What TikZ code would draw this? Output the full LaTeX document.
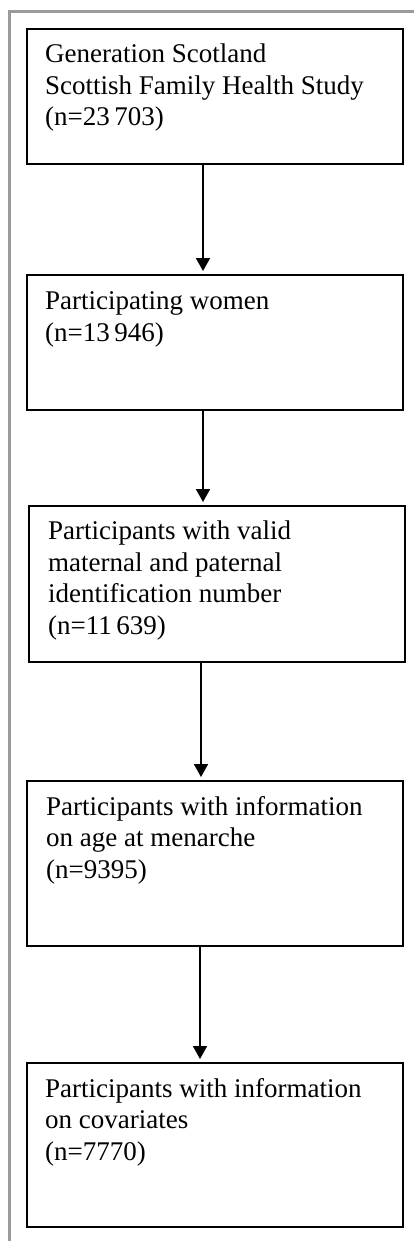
\documentclass[tikz,border=0pt]{standalone}
\usepackage{fontspec}
\setmainfont{Liberation Serif}
\usetikzlibrary{arrows.meta}
\definecolor{framegray}{RGB}{155,155,155}
\tikzset{
  boxnode/.style={draw=black, line width=1.6pt, rectangle, anchor=north west, inner sep=0pt, minimum width=376pt},
  txt/.style={anchor=base west, inner sep=0pt, align=left, font=\fontsize{27}{31.5}\selectfont},
  arr/.style={line width=1.8pt, -{Triangle[width=14pt,length=13pt]}, shorten >=3pt},
  frame/.style={draw=framegray, line width=3pt}
}
\begin{document}
\begin{tikzpicture}[x=1pt,y=-1pt]
\useasboundingbox (0,0) rectangle (414,1241);
% gray frame
\draw[frame] (9.5,11.5) -- (414,11.5);
\draw[frame] (9.5,10) -- (9.5,1241);
% boxes
\node[boxnode, minimum height=135pt] (b1) at (26,28) {};
\node[boxnode, minimum height=135pt] (b2) at (26,274) {};
\node[boxnode, minimum height=156pt] (b3) at (28,505) {};
\node[boxnode, minimum height=165pt] (b4) at (26,780) {};
\node[boxnode, minimum height=164pt] (b5) at (26,1062) {};
% texts (anchored at the baseline of their last line)
\node[txt] (t1) at (45,126) {Generation Scotland\\Scottish Family Health Study\\(n=23\,703)};
\node[txt] (t2) at (45,341) {Participating women\\(n=13\,946)};
\node[txt] (t3) at (48,634) {Participants with valid\\maternal and paternal\\identification number\\(n=11\,639)};
\node[txt] (t4) at (46,878) {Participants with information\\on age at menarche\\(n=9395)};
\node[txt] (t5) at (45,1160) {Participants with information\\on covariates\\(n=7770)};
% arrow columns
\coordinate (c1) at (203,0);
\coordinate (c2) at (203,0);
\coordinate (c3) at (201,0);
\coordinate (c4) at (200,0);
\draw[arr] (b1.south -| c1) -- (b2.north -| c1);
\draw[arr] (b2.south -| c2) -- (b3.north -| c2);
\draw[arr] (b3.south -| c3) -- (b4.north -| c3);
\draw[arr] (b4.south -| c4) -- (b5.north -| c4);
\end{tikzpicture}
\end{document}
